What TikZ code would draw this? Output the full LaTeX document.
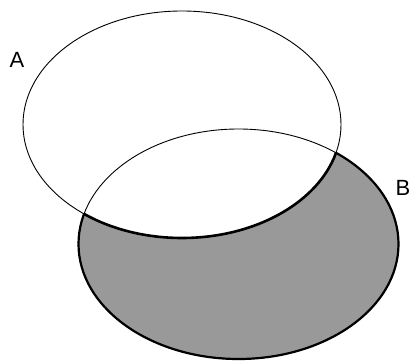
\documentclass[tikz,border=0pt]{standalone}
\usepackage{fontspec}
\setmainfont{Liberation Sans}
\usepackage{tikz}

\begin{document}
\begin{tikzpicture}[x=1pt,y=1pt]
  \useasboundingbox (0,0) rectangle (412,361);
  \coordinate (ca) at (182,236.5);
  \coordinate (cb) at (238.5,117);
  % B without A in grey
  \fill[black!40] (cb) ellipse (160 and 115);
  \fill[white] (ca) ellipse (159 and 113.5);
  \draw[line width=0.9pt] (ca) ellipse (159 and 113.5);
  \draw[line width=0.9pt] (cb) ellipse (160 and 115);
  % thick rim of the grey part
  \begin{scope}
    \clip (cb) ellipse (160 and 115);
    \draw[line width=2.6pt] (ca) ellipse (159 and 113.5);
  \end{scope}
  \begin{scope}[even odd rule]
    \clip (-10,-10) rectangle (422,371) (ca) ellipse (159 and 113.5);
    \draw[line width=2.2pt] (cb) ellipse (160 and 115);
  \end{scope}
  \node[font=\fontsize{22}{24}\selectfont] (labA) at (17,301) {A};
  \node[font=\fontsize{22}{24}\selectfont] (labB) at (403,173) {B};
\end{tikzpicture}
\end{document}
